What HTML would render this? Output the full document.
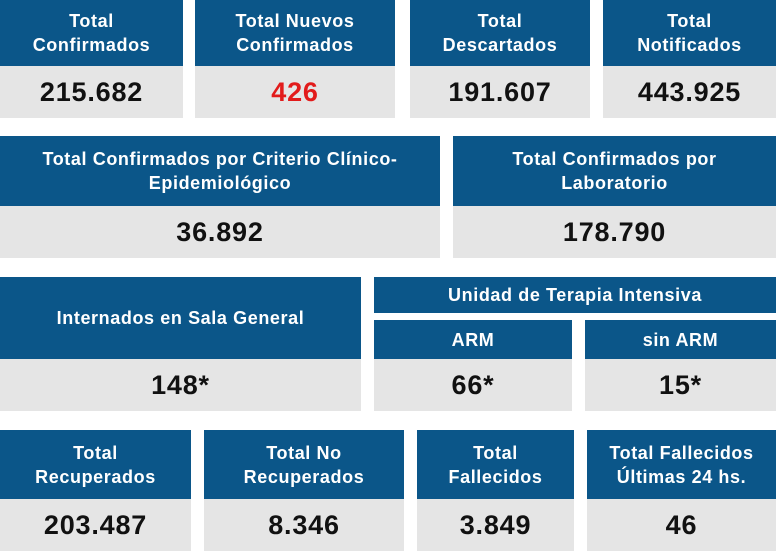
<!DOCTYPE html>
<html><head><meta charset="utf-8"><style>
body{margin:0;width:776px;height:553px;background:#fff;position:relative;overflow:hidden;font-family:"Liberation Sans",sans-serif;font-weight:bold}
.h{position:absolute;background:#0b5689;color:#fff;display:flex;align-items:center;justify-content:center;text-align:center;font-size:18px;line-height:24px;letter-spacing:0.6px}
.v{position:absolute;background:#e5e5e5;color:#111;display:flex;align-items:center;justify-content:center;font-size:27px;letter-spacing:0.8px}
</style></head><body>
<div class="h" style="left:0;top:0;width:183px;height:66px">Total<br>Confirmados</div>
<div class="v" style="left:0;top:66px;width:183px;height:52px">215.682</div>
<div class="h" style="left:195px;top:0;width:200px;height:66px">Total Nuevos<br>Confirmados</div>
<div class="v" style="left:195px;top:66px;width:200px;height:52px;color:#e21b1b">426</div>
<div class="h" style="left:410px;top:0;width:180px;height:66px">Total<br>Descartados</div>
<div class="v" style="left:410px;top:66px;width:180px;height:52px">191.607</div>
<div class="h" style="left:603px;top:0;width:173px;height:66px">Total<br>Notificados</div>
<div class="v" style="left:603px;top:66px;width:173px;height:52px">443.925</div>

<div class="h" style="left:0;top:136px;width:440px;height:70px">Total Confirmados por Criterio Clínico-<br>Epidemiológico</div>
<div class="v" style="left:0;top:206px;width:440px;height:52px">36.892</div>
<div class="h" style="left:453px;top:136px;width:323px;height:70px">Total Confirmados por<br>Laboratorio</div>
<div class="v" style="left:453px;top:206px;width:323px;height:52px">178.790</div>

<div class="h" style="left:0;top:277px;width:361px;height:82px">Internados en Sala General</div>
<div class="v" style="left:0;top:359px;width:361px;height:52px">148*</div>
<div class="h" style="left:374px;top:277px;width:402px;height:36px">Unidad de Terapia Intensiva</div>
<div class="h" style="left:374px;top:320px;width:198px;height:39px">ARM</div>
<div class="v" style="left:374px;top:359px;width:198px;height:52px">66*</div>
<div class="h" style="left:585px;top:320px;width:191px;height:39px">sin ARM</div>
<div class="v" style="left:585px;top:359px;width:191px;height:52px">15*</div>

<div class="h" style="left:0;top:430px;width:191px;height:69px">Total<br>Recuperados</div>
<div class="v" style="left:0;top:499px;width:191px;height:52px">203.487</div>
<div class="h" style="left:204px;top:430px;width:200px;height:69px">Total No<br>Recuperados</div>
<div class="v" style="left:204px;top:499px;width:200px;height:52px">8.346</div>
<div class="h" style="left:417px;top:430px;width:157px;height:69px">Total<br>Fallecidos</div>
<div class="v" style="left:417px;top:499px;width:157px;height:52px">3.849</div>
<div class="h" style="left:587px;top:430px;width:189px;height:69px">Total Fallecidos<br>Últimas 24 hs.</div>
<div class="v" style="left:587px;top:499px;width:189px;height:52px">46</div>
</body></html>
